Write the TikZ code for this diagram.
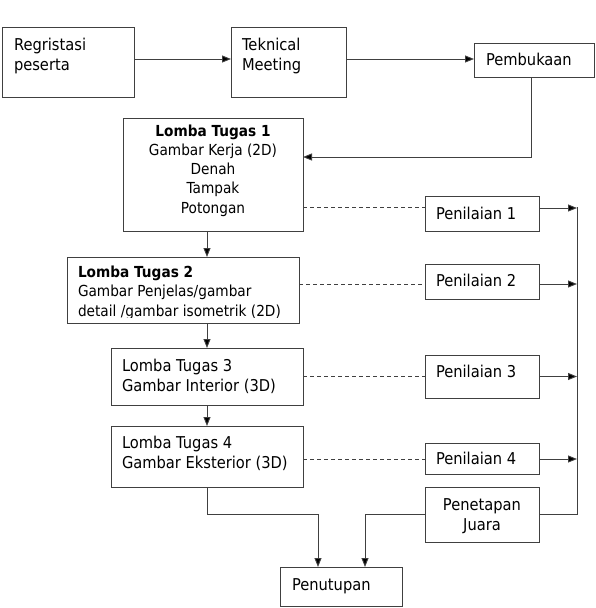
\documentclass[tikz,border=0pt]{standalone}
\usepackage{fontspec}
\setmainfont{DejaVu Sans}[FakeStretch=0.9]
\usetikzlibrary{arrows.meta}
\begin{document}
\begin{tikzpicture}[x=1pt,y=-1pt,
  box/.style={draw=black!75, line width=0.9pt, inner sep=0pt, outer sep=0pt},
  txt/.style={inner sep=0pt, outer sep=0pt, font=\fontsize{16.3}{20}\selectfont, text=black},
  txts/.style={txt, font=\fontsize{15.2}{19.2}\selectfont},
  ln/.style={draw=black!75, line width=0.9pt},
  arr/.style={ln, -{Triangle[length=9pt,width=7pt,fill=black]}},
  dsh/.style={ln, dash pattern=on 4pt off 3pt}]
\useasboundingbox (0,0) rectangle (595,608);
% boxes
\node[box, minimum width=132pt, minimum height=70pt] (reg) at (68,62) {};
\node[box, minimum width=115pt, minimum height=70pt] (tek) at (288.5,62) {};
\node[box, minimum width=120pt, minimum height=34pt] (pemb) at (534,60) {};
\node[box, minimum width=180pt, minimum height=113pt] (l1) at (213,174.5) {};
\node[box, minimum width=114pt, minimum height=35pt] (p1) at (482,213.5) {};
\node[box, minimum width=232pt, minimum height=66pt] (l2) at (183,290) {};
\node[box, minimum width=114pt, minimum height=35pt] (p2) at (482,281.5) {};
\node[box, minimum width=192pt, minimum height=57pt] (l3) at (207,376.5) {};
\node[box, minimum width=114pt, minimum height=43pt] (p3) at (482,376.5) {};
\node[box, minimum width=192pt, minimum height=61pt] (l4) at (207,456.5) {};
\node[box, minimum width=114pt, minimum height=31pt] (p4) at (482,458.5) {};
\node[box, minimum width=114pt, minimum height=55pt] (pj) at (482,514.5) {};
\node[box, minimum width=122pt, minimum height=39pt] (pen) at (341,586.5) {};
% texts
\node[txt, anchor=base west, align=left] (treg) at (14,70) {Regristasi\\peserta};
\node[txt, anchor=base west, align=left] (ttek) at (242,70) {Teknical\\Meeting};
\node[txt, anchor=base west] (tpemb) at (486,65) {Pembukaan};
\node[txts, anchor=base, align=center] (tl1) at (213,213) {\textbf{Lomba Tugas 1}\\Gambar Kerja (2D)\\Denah\\Tampak\\Potongan};
\begin{scope}
\clip (60,250) rectangle (310,317.6);
\node[txts, anchor=base west, align=left] (tl2) at (78,316) {\textbf{Lomba Tugas 2}\\Gambar Penjelas/gambar\\detail /gambar isometrik (2D)};
\end{scope}
\node[txt, anchor=base west, align=left] (tl3) at (122,391) {Lomba Tugas 3\\Gambar Interior (3D)};
\node[txt, anchor=base west, align=left] (tl4) at (122,468) {Lomba Tugas 4\\Gambar Eksterior (3D)};
\node[txt, anchor=base west] (tp1) at (436,219) {Penilaian 1};
\node[txt, anchor=base west] (tp2) at (436,286) {Penilaian 2};
\node[txt, anchor=base west] (tp3) at (436,377) {Penilaian 3};
\node[txt, anchor=base west] (tp4) at (436,464) {Penilaian 4};
\node[txt, anchor=base, align=center] (tpj) at (482,530) {Penetapan\\Juara};
\node[txt, anchor=base west] (tpen) at (292,590) {Penutupan};
% rail coordinates
\coordinate (railtop) at (577,207);
\coordinate (railbot) at (577,514);
% connectors
\draw[arr] ([yshift=3pt]reg.east) -- ([yshift=3pt]tek.west);
\draw[arr] ([yshift=3pt]tek.east) -- ([yshift=1pt]pemb.west);
\draw[arr] ([xshift=-3pt]pemb.south) |- ([yshift=17.5pt]l1.east);
\draw[arr] ([xshift=-6pt]l1.south) -- ([xshift=24pt]l2.north);
\draw[arr] ([xshift=24pt]l2.south) -- (l3.north);
\draw[arr] (l3.south) -- (l4.north);
\draw[dsh] ([yshift=-32.5pt]l1.east) -- ([yshift=6.5pt]p1.west);
\draw[dsh] ([yshift=6pt]l2.east) -- ([yshift=-2.5pt]p2.west);
\draw[dsh] (l3.east) -- (p3.west);
\draw[dsh] ([yshift=-2.5pt]l4.east) -- ([yshift=-0.5pt]p4.west);
\draw[arr] ([yshift=5.5pt]p1.east) -- ++(38,0);
\draw[arr] ([yshift=-2.5pt]p2.east) -- ++(38,0);
\draw[arr] (p3.east) -- ++(38,0);
\draw[arr] ([yshift=-0.5pt]p4.east) -- ++(38,0);
\draw[ln] (railtop) -- (railbot) -- (pj.east |- railbot);
\draw[arr] (l4.south) -- ++(0,27) -| ([xshift=-23pt]pen.north);
\draw[arr] (pj.west) -| ([xshift=24pt]pen.north);
\end{tikzpicture}
\end{document}
